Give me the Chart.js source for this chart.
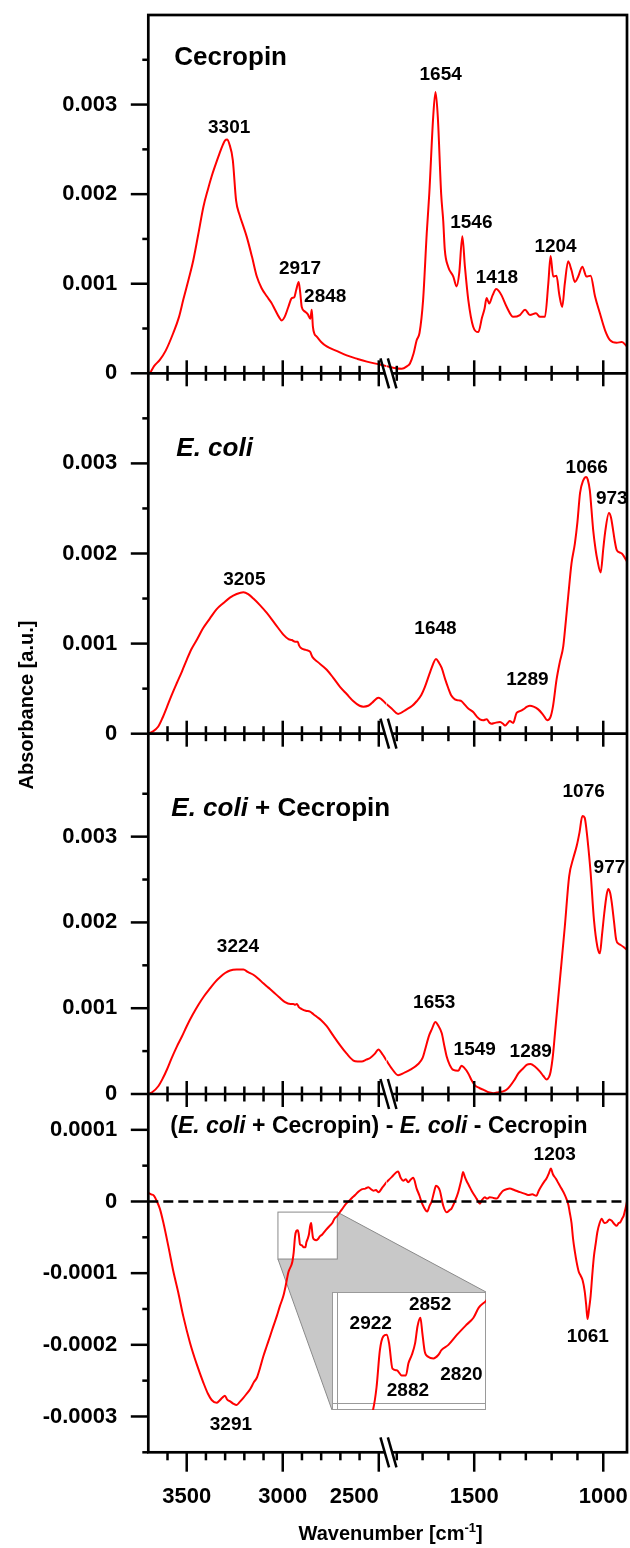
<!DOCTYPE html>
<html lang="en">
<head>
<meta charset="utf-8">
<title>FTIR spectra - Cecropin / E. coli</title>
<script src="https://cdn.jsdelivr.net/npm/chart.js"></script>
<style>
  html, body { margin: 0; padding: 0; background: #fff; }
  #wrap { position: relative; width: 630px; height: 1548px; }
  #main { position: absolute; left: 0; top: 0; }
  #inset { position: absolute; left: 332px; top: 1292px; }
</style>
</head>
<body>
<div id="wrap">
  <canvas id="main" width="630" height="1548"></canvas>
  <canvas id="inset" width="154" height="118"></canvas>
</div>
<script>
/**
 * FTIR absorbance spectra, four stacked panels sharing a broken wavenumber axis.
 * Values are [wavenumber (cm-1), absorbance].
 */

// Panel 1 - Cecropin
const cecropin = [
  [3700, 0.00000], [3690, 0.00001], [3670, 0.00008], [3640, 0.00015], [3610, 0.00025],
  [3570, 0.00045], [3540, 0.00063], [3518, 0.00082], [3490, 0.00105], [3466, 0.00126],
  [3440, 0.00155], [3413, 0.00186], [3390, 0.00205], [3370, 0.00220], [3353, 0.00231],
  [3330, 0.00245], [3312, 0.00255], [3300, 0.00260], [3290, 0.00261], [3278, 0.00256],
  [3260, 0.00238], [3243, 0.00193], [3225, 0.00177], [3205, 0.00164], [3187, 0.00152],
  [3160, 0.00130], [3135, 0.00108], [3110, 0.00095], [3083, 0.00086], [3060, 0.00079],
  [3040, 0.00071], [3020, 0.00063], [3005, 0.00059], [2990, 0.00063], [2971, 0.00074],
  [2953, 0.00084], [2940, 0.00085], [2930, 0.00093], [2917, 0.00102], [2909, 0.00090],
  [2901, 0.00074], [2885, 0.00069], [2870, 0.00066], [2856, 0.00061], [2849, 0.00071],
  [2843, 0.00052], [2835, 0.00044], [2823, 0.00041], [2800, 0.00035], [2771, 0.00030],
  [2720, 0.00025], [2667, 0.00020], [2610, 0.00016], [2562, 0.00013], [2500, 0.00010],
  [2460, 0.00008],
  [1840, 0.00008], [1810, 0.00006], [1781, 0.00005], [1760, 0.00008], [1749, 0.00011],
  [1735, 0.00022], [1723, 0.00037], [1712, 0.00045], [1698, 0.00082], [1684, 0.00156],
  [1674, 0.00201], [1659, 0.00286], [1650, 0.00314], [1641, 0.00286], [1628, 0.00200],
  [1620, 0.00170], [1614, 0.00138], [1601, 0.00119], [1581, 0.00108], [1568, 0.00097],
  [1558, 0.00112], [1546, 0.00153], [1536, 0.00119], [1523, 0.00082], [1504, 0.00052],
  [1484, 0.00046], [1470, 0.00062], [1460, 0.00072], [1452, 0.00084], [1442, 0.00078],
  [1429, 0.00087], [1415, 0.00094], [1405, 0.00092], [1394, 0.00087], [1374, 0.00074],
  [1349, 0.00063], [1323, 0.00065], [1303, 0.00071], [1284, 0.00065], [1261, 0.00067],
  [1245, 0.00063], [1226, 0.00063], [1213, 0.00100], [1204, 0.00131], [1194, 0.00108],
  [1181, 0.00109], [1171, 0.00089], [1159, 0.00074], [1149, 0.00100], [1136, 0.00125],
  [1123, 0.00115], [1110, 0.00102], [1097, 0.00108], [1081, 0.00119], [1065, 0.00108],
  [1049, 0.00109], [1032, 0.00086], [1013, 0.00067], [993, 0.00048], [974, 0.00037],
  [948, 0.00034], [928, 0.00035], [908, 0.00030]
];

// Panel 2 - E. coli
const ecoli = [
  [3700, 0.00000], [3680, 0.00002], [3648, 0.00008], [3625, 0.00018], [3604, 0.00029],
  [3580, 0.00042], [3552, 0.00056], [3525, 0.00069], [3500, 0.00082], [3475, 0.00094],
  [3448, 0.00104], [3415, 0.00117], [3379, 0.00128], [3345, 0.00138], [3309, 0.00145],
  [3275, 0.00151], [3240, 0.00155], [3205, 0.00157], [3180, 0.00155], [3153, 0.00150],
  [3120, 0.00143], [3083, 0.00134], [3040, 0.00122], [2997, 0.00110], [2970, 0.00105],
  [2953, 0.00104], [2935, 0.00102], [2922, 0.00102], [2915, 0.00098], [2905, 0.00095],
  [2880, 0.00093], [2858, 0.00091], [2845, 0.00085], [2820, 0.00080], [2771, 0.00071],
  [2737, 0.00062], [2702, 0.00052], [2667, 0.00044], [2632, 0.00036], [2600, 0.00031],
  [2580, 0.00030], [2555, 0.00031], [2536, 0.00034], [2502, 0.00040], [2460, 0.00033],
  [1840, 0.00033], [1820, 0.00028], [1795, 0.00022], [1762, 0.00027], [1740, 0.00031],
  [1723, 0.00036], [1705, 0.00043], [1691, 0.00052], [1675, 0.00065], [1665, 0.00073],
  [1648, 0.00083], [1637, 0.00079], [1626, 0.00073], [1612, 0.00060], [1601, 0.00051],
  [1588, 0.00042], [1575, 0.00038], [1560, 0.00037], [1549, 0.00036], [1536, 0.00032],
  [1523, 0.00028], [1504, 0.00024], [1490, 0.00019], [1478, 0.00016], [1465, 0.00015],
  [1452, 0.00016], [1440, 0.00012], [1433, 0.00011], [1420, 0.00012], [1400, 0.00013],
  [1388, 0.00011], [1381, 0.00009], [1370, 0.00012], [1362, 0.00014], [1349, 0.00012],
  [1336, 0.00023], [1323, 0.00025], [1310, 0.00027], [1295, 0.00030], [1284, 0.00031],
  [1270, 0.00030], [1252, 0.00027], [1233, 0.00021], [1217, 0.00015], [1205, 0.00018],
  [1195, 0.00030], [1181, 0.00060], [1168, 0.00080], [1155, 0.00097], [1145, 0.00125],
  [1136, 0.00152], [1123, 0.00189], [1110, 0.00211], [1100, 0.00235], [1090, 0.00267],
  [1078, 0.00281], [1066, 0.00285], [1060, 0.00282], [1052, 0.00270], [1046, 0.00250],
  [1039, 0.00226], [1030, 0.00205], [1023, 0.00193], [1010, 0.00179], [1000, 0.00205],
  [993, 0.00223], [978, 0.00245], [970, 0.00240], [964, 0.00230], [956, 0.00215],
  [948, 0.00204], [935, 0.00201], [928, 0.00200], [918, 0.00196], [908, 0.00191]
];

// Panel 3 - E. coli + Cecropin
const ecoliCecropin = [
  [3700, 0.00000], [3680, 0.00002], [3648, 0.00009], [3625, 0.00018], [3604, 0.00028],
  [3580, 0.00041], [3552, 0.00055], [3525, 0.00067], [3500, 0.00079], [3470, 0.00092],
  [3439, 0.00104], [3410, 0.00114], [3379, 0.00123], [3350, 0.00131], [3327, 0.00136],
  [3300, 0.00141], [3274, 0.00144], [3240, 0.00145], [3205, 0.00145], [3180, 0.00142],
  [3153, 0.00139], [3125, 0.00134], [3101, 0.00129], [3075, 0.00124], [3049, 0.00119],
  [3020, 0.00113], [2988, 0.00107], [2960, 0.00105], [2945, 0.00105], [2935, 0.00104],
  [2927, 0.00105], [2915, 0.00101], [2901, 0.00099], [2880, 0.00097], [2858, 0.00096],
  [2840, 0.00093], [2823, 0.00090], [2800, 0.00086], [2771, 0.00079], [2737, 0.00068],
  [2702, 0.00057], [2667, 0.00047], [2632, 0.00039], [2610, 0.00038], [2589, 0.00038],
  [2565, 0.00040], [2545, 0.00042], [2520, 0.00047], [2502, 0.00052], [2480, 0.00046],
  [2460, 0.00039],
  [1840, 0.00039], [1820, 0.00030], [1795, 0.00022], [1770, 0.00025], [1749, 0.00028],
  [1717, 0.00035], [1700, 0.00042], [1691, 0.00051], [1675, 0.00068], [1665, 0.00075],
  [1650, 0.00084], [1640, 0.00080], [1626, 0.00071], [1615, 0.00055], [1607, 0.00044],
  [1595, 0.00034], [1581, 0.00028], [1562, 0.00027], [1549, 0.00033], [1540, 0.00031],
  [1523, 0.00024], [1510, 0.00016], [1497, 0.00010], [1480, 0.00007], [1465, 0.00005],
  [1445, 0.00002], [1426, 0.00001], [1405, 0.00002], [1388, 0.00003], [1375, 0.00005],
  [1362, 0.00009], [1345, 0.00016], [1329, 0.00024], [1310, 0.00030], [1297, 0.00034],
  [1282, 0.00035], [1265, 0.00032], [1245, 0.00026], [1232, 0.00021], [1220, 0.00017],
  [1210, 0.00020], [1204, 0.00026], [1195, 0.00045], [1187, 0.00071], [1168, 0.00133],
  [1149, 0.00195], [1132, 0.00254], [1116, 0.00275], [1103, 0.00289], [1092, 0.00305],
  [1081, 0.00324], [1072, 0.00322], [1065, 0.00308], [1057, 0.00285], [1049, 0.00258],
  [1036, 0.00203], [1023, 0.00172], [1013, 0.00164], [1005, 0.00185], [996, 0.00211],
  [987, 0.00232], [981, 0.00239], [973, 0.00234], [967, 0.00223], [958, 0.00200],
  [950, 0.00180], [940, 0.00175], [934, 0.00174], [920, 0.00171], [908, 0.00168]
];

// Panel 4 - (E. coli + Cecropin) - E. coli - Cecropin
const difference = [
  [3700, 0.000012], [3685, 0.000010], [3670, 0.000008], [3655, 0.000000], [3640, -0.000010],
  [3622, -0.000029], [3596, -0.000062], [3570, -0.000097], [3544, -0.000127], [3518, -0.000160],
  [3483, -0.000197], [3448, -0.000227], [3413, -0.000253], [3390, -0.000268], [3370, -0.000277],
  [3344, -0.000281], [3330, -0.000278], [3315, -0.000274], [3301, -0.000271], [3290, -0.000276],
  [3274, -0.000279], [3258, -0.000282], [3240, -0.000284], [3225, -0.000280], [3205, -0.000274],
  [3190, -0.000269], [3170, -0.000262], [3150, -0.000252], [3135, -0.000246], [3118, -0.000232],
  [3101, -0.000216], [3085, -0.000203], [3066, -0.000188], [3050, -0.000175], [3031, -0.000160],
  [3015, -0.000146], [2997, -0.000132], [2985, -0.000118], [2971, -0.000099], [2950, -0.000084],
  [2943, -0.000071], [2936, -0.000049], [2929, -0.000041], [2922, -0.000040], [2917, -0.000045],
  [2910, -0.000060], [2901, -0.000061], [2891, -0.000064], [2882, -0.000064], [2877, -0.000057],
  [2870, -0.000052], [2863, -0.000045], [2858, -0.000035], [2852, -0.000030], [2848, -0.000039],
  [2843, -0.000050], [2836, -0.000053], [2825, -0.000054], [2815, -0.000052], [2808, -0.000049],
  [2794, -0.000046], [2776, -0.000040], [2756, -0.000034], [2742, -0.000030], [2731, -0.000024],
  [2716, -0.000020], [2700, -0.000014], [2684, -0.000008], [2670, -0.000003], [2658, 0.000000],
  [2640, 0.000005], [2623, 0.000009], [2605, 0.000014], [2589, 0.000017], [2570, 0.000018],
  [2554, 0.000020], [2540, 0.000017], [2528, 0.000015], [2515, 0.000016], [2502, 0.000013],
  [2480, 0.000020], [2460, 0.000027],
  [1840, 0.000027], [1820, 0.000034], [1795, 0.000042], [1785, 0.000033], [1775, 0.000029],
  [1765, 0.000031], [1756, 0.000027], [1745, 0.000031], [1736, 0.000033], [1723, 0.000018],
  [1712, 0.000008], [1704, -0.000001], [1695, -0.000008], [1682, -0.000014], [1673, -0.000006],
  [1665, 0.000000], [1655, 0.000014], [1648, 0.000022], [1640, 0.000020], [1633, 0.000015],
  [1620, -0.000006], [1607, -0.000015], [1595, -0.000012], [1588, -0.000010], [1575, 0.000000],
  [1562, 0.000013], [1550, 0.000030], [1543, 0.000041], [1536, 0.000034], [1530, 0.000029],
  [1520, 0.000022], [1510, 0.000015], [1500, 0.000009], [1491, 0.000004], [1478, -0.000003],
  [1470, 0.000002], [1459, 0.000006], [1450, 0.000004], [1440, 0.000006], [1425, 0.000005],
  [1413, 0.000004], [1400, 0.000010], [1388, 0.000015], [1375, 0.000017], [1362, 0.000018],
  [1345, 0.000016], [1323, 0.000013], [1305, 0.000011], [1291, 0.000009], [1275, 0.000010],
  [1259, 0.000008], [1250, 0.000015], [1239, 0.000022], [1228, 0.000028], [1220, 0.000032],
  [1210, 0.000040], [1203, 0.000046], [1195, 0.000038], [1184, 0.000032], [1173, 0.000025],
  [1162, 0.000018], [1150, 0.000010], [1143, 0.000004], [1135, -0.000005], [1130, -0.000015],
  [1123, -0.000030], [1117, -0.000052], [1110, -0.000070], [1103, -0.000085], [1095, -0.000098],
  [1087, -0.000104], [1080, -0.000110], [1072, -0.000125], [1066, -0.000145], [1061, -0.000164],
  [1055, -0.000150], [1049, -0.000132], [1042, -0.000100], [1036, -0.000076], [1029, -0.000058],
  [1023, -0.000043], [1014, -0.000030], [1006, -0.000024], [996, -0.000030], [986, -0.000029],
  [976, -0.000025], [967, -0.000027], [958, -0.000031], [948, -0.000034], [940, -0.000030],
  [934, -0.000029], [927, -0.000024], [921, -0.000020], [914, -0.000010], [908, 0.000000]
];

// Peak labels: [text, anchor wavenumber, anchor absorbance] (centre / baseline of the text)
const cecropinPeaks = [
  ['3301', 3279, 0.002686], ['2917', 2910, 0.001109], ['2848', 2779, 0.000799],
  ['1654', 1630, 0.003274], ['1546', 1511, 0.001619], ['1418', 1412, 0.001005],
  ['1204', 1185, 0.001358]
];
const ecoliPeaks = [
  ['3205', 3200, 0.001654], ['1648', 1650, 0.001107], ['1289', 1294, 0.000540],
  ['1066', 1064, 0.002890], ['973', 967, 0.002550]
];
const ecoliCecropinPeaks = [
  ['3224', 3233, 0.001652], ['1653', 1655, 0.001006], ['1549', 1498, 0.000451],
  ['1289', 1281, 0.000435], ['1076', 1076, 0.003466], ['977', 976, 0.002580]
];
const differencePeaks = [
  ['1203', 1188, 0.0000579], ['1061', 1060, -0.0001957], ['3291', 3270, -0.0003189]
];
const insetPeaks = [
  ['2922', 2955, -0.0000368], ['2852', 2832, -0.0000254],
  ['2882', 2878, -0.0000760], ['2820', 2767, -0.0000667]
];

// Axis ticks
const xMajorTicks = [3500, 3000, 2500, 1500, 1000];
const xMinorTicks = [3600, 3400, 3300, 3200, 3100, 2900, 2800, 2700, 2600,
  1800, 1700, 1600, 1400, 1300, 1200, 1100];
const absMajorTicks = [0, 0.001, 0.002, 0.003];
const absMinorTicks = [0.0005, 0.0015, 0.0025, 0.0035];
const diffMajorTicks = [-0.0003, -0.0002, -0.0001, 0, 0.0001];
const diffMinorTicks = [-0.00035, -0.00025, -0.00015, -0.00005, 0.00005];

// Broken x axis: two ranges, each with its own cm-1 per pixel
const X_LEFT = { min: 2460, max: 3700, pxPerUnit: 0.192 };
const X_RIGHT = { min: 908, max: 1840, pxPerUnit: 0.258 };

// Zoomed region shown in the inset
const INSET_RANGE = { xMin: 2716, xMax: 3025, yMin: -0.0000803, yMax: -0.0000148 };

const PANELS = [
  { id: 'y1', min: 0, max: 0.004, height: 358.3, series: cecropin, peaks: cecropinPeaks,
    major: absMajorTicks, minor: absMinorTicks, digits: 3,
    title: [{ t: 'Cecropin' }], titleSize: 26, titleDx: 26, titleDy: 50 },
  { id: 'y2', min: 0, max: 0.004, height: 360.4, series: ecoli, peaks: ecoliPeaks,
    major: absMajorTicks, minor: absMinorTicks, digits: 3,
    title: [{ t: 'E. coli', i: true }], titleSize: 26, titleDx: 28, titleDy: 83 },
  { id: 'y3', min: 0, max: 0.0042, height: 360.3, series: ecoliCecropin, peaks: ecoliCecropinPeaks,
    major: absMajorTicks, minor: absMinorTicks, digits: 3,
    title: [{ t: 'E. coli', i: true }, { t: ' + Cecropin' }], titleSize: 26, titleDx: 23, titleDy: 82 },
  { id: 'y4', min: -0.00035, max: 0.00015, height: 358.3, series: difference, peaks: differencePeaks,
    major: diffMajorTicks, minor: diffMinorTicks, digits: 4,
    title: [{ t: '(' }, { t: 'E. coli', i: true }, { t: ' + Cecropin) - ' }, { t: 'E. coli', i: true },
      { t: ' - Cecropin' }], titleSize: 23, titleDx: 22, titleDy: 39 }
];

const FONT_FAMILY = '"Liberation Sans", Arial, Helvetica, sans-serif';
const RED = '#ff0000';
const AXIS_WIDTH = 2.7;
const TICK_WIDTH = 2.5;

/**
 * Build a canvas font string
 */
function font(size, italic = false) {
  return `${italic ? 'italic ' : ''}bold ${size}px ${FONT_FAMILY}`;
}

function line(ctx, x1, y1, x2, y2) {
  ctx.beginPath();
  ctx.moveTo(x1, y1);
  ctx.lineTo(x2, y2);
  ctx.stroke();
}

function toPoints(series) {
  return series.map(([x, y]) => ({ x, y }));
}

/**
 * Pixel for a wavenumber on whichever half of the broken axis holds it
 */
function xPixel(chart, v) {
  return v >= X_LEFT.min ? chart.scales.xL.getPixelForValue(v) : chart.scales.xR.getPixelForValue(v);
}

const lineStyle = {
  borderColor: RED,
  borderWidth: 2,
  pointRadius: 0,
  cubicInterpolationMode: 'monotone',
  order: 1
};

/**
 * One dataset per half of the broken axis
 */
function splitSeries(series, yAxisID) {
  return [
    { data: toPoints(series.filter(p => p[0] >= X_LEFT.min)), xAxisID: 'xL', yAxisID, ...lineStyle },
    { data: toPoints(series.filter(p => p[0] <= X_RIGHT.max)), xAxisID: 'xR', yAxisID, ...lineStyle }
  ];
}

const datasets = [];
for (const panel of PANELS) {
  datasets.push(...splitSeries(panel.series, panel.id));
}

// dashed zero line of the difference spectrum
const zeroStyle = { borderColor: '#000', borderWidth: 2.7, borderDash: [10, 5], pointRadius: 0, order: 0, yAxisID: 'y4' };
datasets.push({ data: [{ x: X_LEFT.max, y: 0 }, { x: X_LEFT.min, y: 0 }], xAxisID: 'xL', ...zeroStyle });
datasets.push({ data: [{ x: X_RIGHT.max, y: 0 }, { x: X_RIGHT.min, y: 0 }], xAxisID: 'xR', ...zeroStyle });

// Scales: x halves stacked side by side, y panels stacked top to bottom
const scales = {
  xL: { type: 'linear', position: 'bottom', stack: 'wn', reverse: true, display: false,
    min: X_LEFT.min, max: X_LEFT.max, stackWeight: (X_LEFT.max - X_LEFT.min) * X_LEFT.pxPerUnit },
  xR: { type: 'linear', position: 'bottom', stack: 'wn', reverse: true, display: false,
    min: X_RIGHT.min, max: X_RIGHT.max, stackWeight: (X_RIGHT.max - X_RIGHT.min) * X_RIGHT.pxPerUnit }
};
// left boxes are laid out last-first, so add the bottom panel first
[...PANELS].reverse().forEach((panel, i) => {
  scales[panel.id] = {
    type: 'linear', position: 'left', stack: 'abs', stackWeight: panel.height, weight: i,
    min: panel.min, max: panel.max, display: false
  };
});

/**
 * Grey "zoom" wedge joining the small rectangle to the inset box
 */
function drawInsetPointer(chart) {
  const { ctx, scales: s } = chart;
  const x0 = s.xL.getPixelForValue(INSET_RANGE.xMax);
  const x1 = s.xL.getPixelForValue(INSET_RANGE.xMin);
  const y0 = s.y4.getPixelForValue(INSET_RANGE.yMax);
  const y1 = s.y4.getPixelForValue(INSET_RANGE.yMin);
  const box = document.getElementById('inset');
  const bl = box.offsetLeft, bt = box.offsetTop, bw = box.width, bh = box.height;

  ctx.save();
  ctx.fillStyle = '#c8c8c8';
  ctx.beginPath();
  ctx.moveTo(x1, y0);
  ctx.lineTo(bl + bw, bt);
  ctx.lineTo(bl, bt + bh);
  ctx.lineTo(x0, y1);
  ctx.closePath();
  ctx.fill();
  ctx.strokeStyle = '#8a8a8a';
  ctx.lineWidth = 1;
  line(ctx, x1, y0, bl + bw, bt);
  line(ctx, x0, y1, bl, bt + bh);
  ctx.fillStyle = '#fff';
  ctx.fillRect(x0, y0, x1 - x0, y1 - y0);
  ctx.strokeRect(x0, y0, x1 - x0, y1 - y0);
  ctx.restore();
}

/**
 * The "\\" break marks on the wavenumber axis
 */
function drawBreak(chart, y) {
  const ctx = chart.ctx;
  const bx = chart.scales.xR.left + 2;
  const h = 15, s = 4.3, gap = 3.7, k = s / h * 4;
  ctx.save();
  ctx.fillStyle = '#fff';
  ctx.beginPath();
  ctx.moveTo(bx - gap - k, y - 4);
  ctx.lineTo(bx + gap - k, y - 4);
  ctx.lineTo(bx + gap + k, y + 4);
  ctx.lineTo(bx - gap + k, y + 4);
  ctx.closePath();
  ctx.fill();
  ctx.strokeStyle = '#000';
  ctx.lineWidth = TICK_WIDTH;
  line(ctx, bx - gap - s, y - h, bx - gap + s, y + h);
  line(ctx, bx + gap - s, y - h, bx + gap + s, y + h);
  ctx.restore();
}

/**
 * x tick marks crossing a panel separator
 */
function drawSeparatorTicks(ctx, chart, y) {
  ctx.save();
  ctx.strokeStyle = '#000';
  ctx.lineWidth = TICK_WIDTH;
  for (const v of xMajorTicks.concat(xMinorTicks)) {
    const l = xMajorTicks.includes(v) ? 13 : 7.5;
    const px = xPixel(chart, v);
    line(ctx, px, y - l, px, y + l);
  }
  ctx.restore();
}

/**
 * x tick marks hanging below the bottom axis
 */
function drawBottomTicks(ctx, chart, y) {
  ctx.save();
  ctx.fillStyle = '#000';
  for (const v of xMajorTicks.concat(xMinorTicks)) {
    const px = xPixel(chart, v);
    ctx.fillRect(px - TICK_WIDTH / 2, y - 1, TICK_WIDTH, xMajorTicks.includes(v) ? 20.4 : 9);
  }
  ctx.restore();
}

function drawYTicks(ctx, chart, panel) {
  const area = chart.chartArea;
  const scale = chart.scales[panel.id];
  ctx.save();
  ctx.strokeStyle = '#000';
  ctx.fillStyle = '#000';
  ctx.lineWidth = TICK_WIDTH;
  ctx.font = font(22);
  ctx.textAlign = 'right';
  ctx.textBaseline = 'middle';
  for (const v of panel.minor) {
    const py = scale.getPixelForValue(v);
    line(ctx, area.left - 6, py, area.left, py);
  }
  for (const v of panel.major) {
    const py = scale.getPixelForValue(v);
    line(ctx, area.left - 17.5, py, area.left, py);
    const label = v === 0 ? '0' : v.toFixed(panel.digits);
    ctx.fillText(label, area.left - 31, py);
  }
  ctx.restore();
}

function drawPeakLabels(ctx, xFor, yScale, peaks, size) {
  ctx.save();
  ctx.fillStyle = '#000';
  ctx.font = font(size);
  ctx.textAlign = 'center';
  ctx.textBaseline = 'alphabetic';
  for (const [text, wn, v] of peaks) {
    ctx.fillText(text, xFor(wn), yScale.getPixelForValue(v));
  }
  ctx.restore();
}

function drawRichText(ctx, parts, size, x, y) {
  ctx.save();
  ctx.fillStyle = '#000';
  ctx.textAlign = 'left';
  ctx.textBaseline = 'alphabetic';
  let cx = x;
  for (const part of parts) {
    ctx.font = font(size, part.i);
    ctx.fillText(part.t, cx, y);
    cx += ctx.measureText(part.t).width;
  }
  ctx.restore();
}

const brokenAxesPlugin = {
  id: 'brokenAxes',
  beforeDatasetsDraw(chart) {
    drawInsetPointer(chart);
  },
  afterDatasetsDraw(chart) {
    const { ctx, chartArea: area, scales: s } = chart;
    ctx.save();
    ctx.strokeStyle = '#000';
    ctx.fillStyle = '#000';

    // frame and panel separators
    ctx.lineWidth = AXIS_WIDTH;
    ctx.strokeRect(area.left, area.top, area.right - area.left, area.bottom - area.top);
    for (const panel of PANELS.slice(0, -1)) {
      const y = s[panel.id].bottom;
      ctx.lineWidth = AXIS_WIDTH;
      line(ctx, area.left, y, area.right, y);
      drawSeparatorTicks(ctx, chart, y);
      drawBreak(chart, y);
    }
    for (const panel of PANELS) {
      drawYTicks(ctx, chart, panel);
    }

    // x tick labels
    const axisY = area.bottom;
    ctx.font = font(22);
    ctx.textBaseline = 'alphabetic';
    for (const v of xMajorTicks) {
      const px = xPixel(chart, v);
      const w = ctx.measureText(String(v)).width;
      // a label that would run into the break mark is set flush left of its tick
      ctx.textAlign = (v >= X_LEFT.min && px + w / 2 > s.xR.left - 8) ? 'right' : 'center';
      ctx.fillText(String(v), px, axisY + 50.7);
    }

    // axis titles
    const main = 'Wavenumber [cm';
    const sup = '-1';
    ctx.font = font(20);
    const wMain = ctx.measureText(main).width;
    const wEnd = ctx.measureText(']').width;
    ctx.font = font(13);
    const wSup = ctx.measureText(sup).width;
    let tx = (area.left + area.right) / 2 + 3 - (wMain + wSup + wEnd) / 2;
    const ty = axisY + 88;
    ctx.textAlign = 'left';
    ctx.font = font(20);
    ctx.fillText(main, tx, ty);
    tx += wMain;
    ctx.font = font(13);
    ctx.fillText(sup, tx, ty - 8);
    tx += wSup;
    ctx.font = font(20);
    ctx.fillText(']', tx, ty);

    ctx.save();
    ctx.translate(27, 705);
    ctx.rotate(-Math.PI / 2);
    ctx.font = font(20);
    ctx.textAlign = 'center';
    ctx.textBaseline = 'middle';
    ctx.fillText('Absorbance [a.u.]', 0, 0);
    ctx.restore();

    // panel titles and peak labels
    for (const panel of PANELS) {
      const scale = s[panel.id];
      drawRichText(ctx, panel.title, panel.titleSize, area.left + panel.titleDx, scale.top + panel.titleDy);
      drawPeakLabels(ctx, v => xPixel(chart, v), scale, panel.peaks, 19);
    }
    ctx.restore();
  },
  afterDraw(chart) {
    const { ctx, chartArea: area } = chart;
    drawBottomTicks(ctx, chart, area.bottom);
    drawBreak(chart, area.bottom);
  }
};

new Chart(document.getElementById('main'), {
  type: 'line',
  data: { datasets },
  options: {
    responsive: false,
    animation: false,
    devicePixelRatio: 1,
    events: [],
    layout: { padding: { left: 148.3, right: 3, top: 15, bottom: 95.7 } },
    plugins: { legend: { display: false }, tooltip: { enabled: false } },
    scales
  },
  plugins: [brokenAxesPlugin]
});

// Inset: zoom of the 3025-2716 cm-1 region of the difference spectrum
const insetFramePlugin = {
  id: 'insetFrame',
  beforeDatasetsDraw(chart) {
    const { ctx, chartArea: area, width, height } = chart;
    ctx.save();
    ctx.fillStyle = '#fff';
    ctx.fillRect(0, 0, width, height);
    ctx.strokeStyle = '#9a9a9a';
    ctx.lineWidth = 1;
    ctx.strokeRect(0.5, 0.5, width - 1, height - 1);
    line(ctx, area.left + 0.5, 0, area.left + 0.5, height);
    line(ctx, 0, area.bottom + 0.5, width, area.bottom + 0.5);
    ctx.restore();
  },
  afterDatasetsDraw(chart) {
    const s = chart.scales;
    drawPeakLabels(chart.ctx, v => s.x.getPixelForValue(v), s.y, insetPeaks, 19);
  }
};

new Chart(document.getElementById('inset'), {
  type: 'line',
  data: {
    datasets: [{
      data: toPoints(difference.filter(p => p[0] <= 2975 && p[0] >= 2700)),
      ...lineStyle,
      clip: { left: 5, top: 0, right: 0, bottom: 7 }
    }]
  },
  options: {
    responsive: false,
    animation: false,
    devicePixelRatio: 1,
    events: [],
    layout: { padding: { left: 5, right: 0, top: 0, bottom: 7 } },
    plugins: { legend: { display: false }, tooltip: { enabled: false } },
    scales: {
      x: { type: 'linear', reverse: true, min: INSET_RANGE.xMin, max: INSET_RANGE.xMax, display: false },
      y: { type: 'linear', min: INSET_RANGE.yMin, max: INSET_RANGE.yMax, display: false }
    }
  },
  plugins: [insetFramePlugin]
});
</script>
</body>
</html>
